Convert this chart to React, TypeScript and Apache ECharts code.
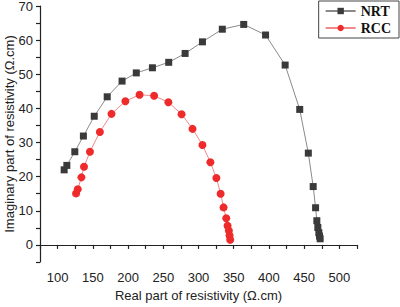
import React, { useEffect, useRef } from "react";
import * as echarts from "echarts";

const nrtX = [109.3, 113.1, 124.4, 136.6, 152, 170.4, 191.5, 211.7, 234.6, 257.7, 281, 305.6, 333.8, 364.2, 395.2, 423, 443.7, 455.9, 462.8, 466.2, 468, 469.4, 470.8, 471.8, 472.7];
const nrtY = [22.0, 23.3, 27.3, 31.9, 37.7, 43.4, 48.0, 50.4, 51.9, 53.5, 56.1, 59.5, 63.2, 64.6, 61.5, 52.7, 39.7, 26.9, 17.1, 10.9, 7.1, 5.1, 3.6, 2.6, 1.8];

const rccX = [126.2, 128.6, 133.8, 137.5, 145.9, 160, 176.5, 196.2, 216.3, 237, 257.2, 276, 291.5, 305.6, 316.9, 325.4, 331.4, 335.6, 339.4, 341.3, 343.1, 344.1, 345];
const rccY = [15.1, 16.3, 19.8, 22.9, 27.3, 33.1, 38.4, 42.1, 44.0, 43.7, 41.8, 38.3, 34.0, 29.3, 24.2, 19.6, 15.0, 11.0, 7.8, 5.6, 4.2, 2.8, 1.5];

const seriesNames = ["NRT", "RCC"];
const xTitle = "Real part of resistivity (Ω.cm)";
const yTitle = "Imaginary part of resistivity (Ω.cm)";

export default function App() {
  const ref = useRef<HTMLDivElement>(null);
  useEffect(() => {
    document.body.style.margin = "0";
    const chart = echarts.init(ref.current!, null, { renderer: "svg" });
    const axisCommon = {
      axisLine: { show: true, lineStyle: { color: "#222", width: 1.2 } },
      axisTick: { show: true, inside: false, length: 4, lineStyle: { color: "#222", width: 1.2 } },
      splitLine: { show: false },
      nameLocation: "middle" as const,
      nameMoveOverlap: false,
      nameTextStyle: { fontFamily: "Liberation Sans", fontSize: 13, color: "#222" },
    };
    chart.setOption({
      animation: false,
      backgroundColor: "#fff",
      grid: { left: 40, right: 43, top: 6, bottom: 45, containLabel: false, outerBoundsMode: "none" },
      legend: {
        orient: "vertical",
        right: 1,
        top: 1,
        data: seriesNames,
        itemWidth: 30,
        itemHeight: 8,
        itemGap: 3,
        padding: [3, 8, 3, 6],
        borderColor: "#444",
        borderWidth: 1,
        textStyle: { fontFamily: "Liberation Serif", fontWeight: "bold", fontSize: 14, color: "#111" },
      },
      xAxis: {
        type: "value",
        min: 75,
        max: 525,
        interval: 25,
        name: xTitle,
        nameGap: 27,
        ...axisCommon,
        axisLabel: {
          fontFamily: "Liberation Sans",
          fontSize: 13,
          color: "#222",
          margin: 9,
          formatter: (v: number) => (v % 50 === 0 ? String(v) : ""),
        },
      },
      yAxis: {
        type: "value",
        min: -5,
        max: 70,
        interval: 5,
        name: yTitle,
        nameGap: 24,
        ...axisCommon,
        axisLabel: {
          fontFamily: "Liberation Sans",
          fontSize: 13,
          color: "#222",
          margin: 7,
          formatter: (v: number) => (v % 10 === 0 ? String(v) : ""),
        },
      },
      series: [
        {
          name: seriesNames[0],
          type: "line",
          data: nrtX.map((x, i) => [x, nrtY[i]]),
          symbol: "rect",
          symbolSize: 7,
          showAllSymbol: true,
          itemStyle: { color: "#3a3a3a" },
          lineStyle: { color: "#8a8a8a", width: 1 },
        },
        {
          name: seriesNames[1],
          type: "line",
          data: rccX.map((x, i) => [x, rccY[i]]),
          symbol: "circle",
          symbolSize: 8,
          showAllSymbol: true,
          itemStyle: { color: "#ee2a2a" },
          lineStyle: { color: "#f08a8a", width: 1 },
        },
      ],
    });
    return () => chart.dispose();
  }, []);
  return <div ref={ref} style={{ width: 400, height: 307 }} />;
}
